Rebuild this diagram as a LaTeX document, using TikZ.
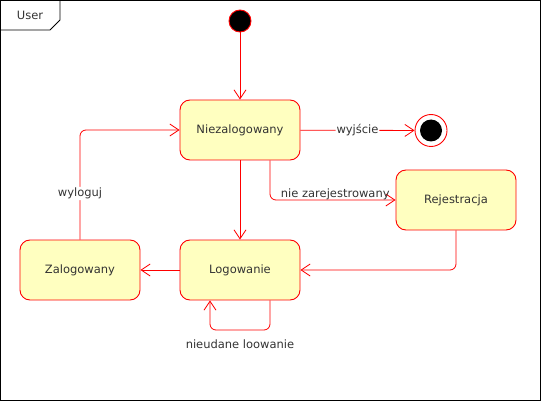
\documentclass[tikz,border=0pt]{standalone}
\usepackage{fontspec}
\setmainfont{DejaVu Sans}
\usetikzlibrary{arrows.meta}
\definecolor{stfill}{HTML}{FFFFC0}
\definecolor{txt}{HTML}{333333}
\begin{document}
\begin{tikzpicture}[x=1pt,y=-1pt,
  state/.style={draw=red, line width=0.9pt, fill=stfill, rounded corners=10pt, minimum width=120pt, minimum height=60pt, inner sep=0pt, font=\fontsize{11.5}{13}\selectfont, text=txt},
  conn/.style={draw=red, line width=0.8pt, -{Straight Barb[length=9pt,width=12pt]}, rounded corners=6pt},
  lbl/.style={font=\fontsize{11.5}{13}\selectfont, text=txt, fill=white, inner sep=1pt}]
\useasboundingbox (0,0) rectangle (541,401);
% frame
\draw[black, line width=0.8pt] (0.5,0.5) rectangle (540.5,400.5);
\draw[black, line width=0.8pt] (0.5,30) -- (50,30) -- (60,20) -- (60,0.5);
\node[font=\fontsize{11.5}{13}\selectfont, text=txt] (frametitle) at (30,15) {User};
% states
\node[circle, draw=red, fill=black, minimum size=22pt, inner sep=0pt, line width=0.9pt] (init) at (240,21) {};
\node[state] (niez) at (240,130) {Niezalogowany};
\node[circle, draw=red, fill=white, minimum size=32pt, inner sep=0pt, line width=0.9pt] (final) at (431,130.5) {};
\node[circle, fill=black, minimum size=22pt, inner sep=0pt] (finalin) at (final.center) {};
\node[state] (rej) at (456,200) {Rejestracja};
\node[state] (log) at (240,270) {Logowanie};
\node[state] (zal) at (80,270) {Zalogowany};
% connectors
\draw[conn] (init) -- (niez);
\draw[conn] (niez) -- node[lbl] {wyjście} (final);
\draw[conn] ([xshift=30pt]niez.south) |- node[lbl, pos=0.76, above=-1pt, fill=none] {nie zarejestrowany} (rej.west);
\draw[conn] (niez) -- (log);
\draw[conn] (rej.south) |- (log.east);
\draw[conn] (log) -- (zal);
\draw[conn] (zal.north) |- node[lbl, pos=0.21] {wyloguj} (niez.west);
\coordinate (loopa) at (270,330);
\coordinate (loopb) at (210,330);
\draw[conn] ([xshift=30pt]log.south) -- (loopa) -- (loopb) -- ([xshift=-30pt]log.south);
\node[font=\fontsize{11.5}{13}\selectfont, text=txt] (looplbl) at (240,344) {nieudane loowanie};
\end{tikzpicture}
\end{document}
